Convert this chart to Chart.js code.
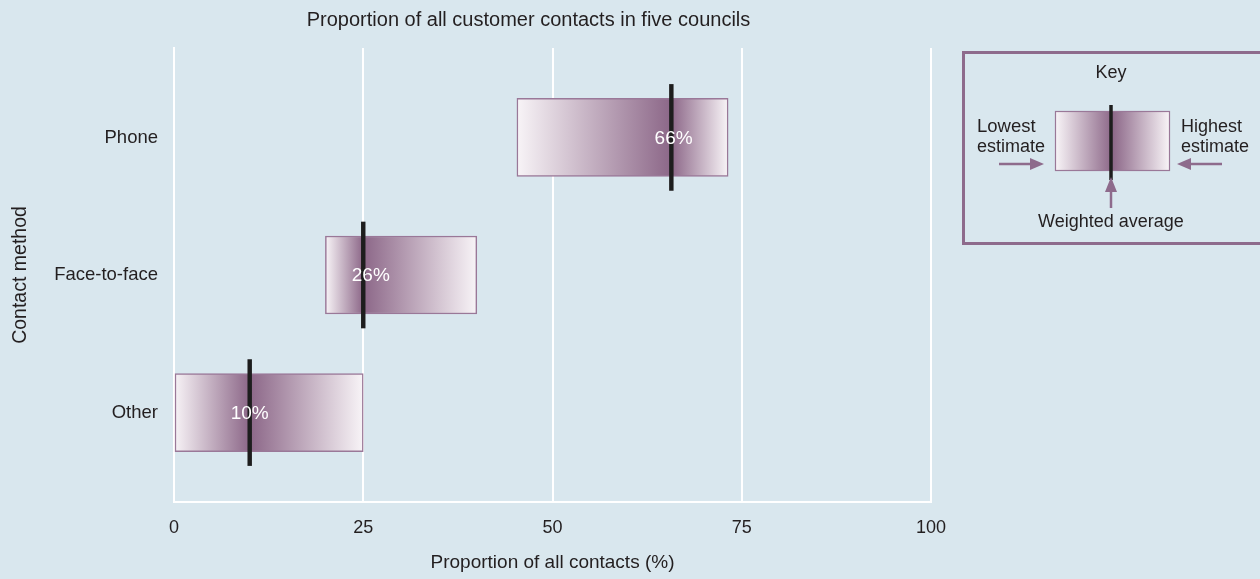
<!DOCTYPE html>
<html>
<head>
<meta charset="utf-8">
<script src="https://cdn.jsdelivr.net/npm/chart.js@4.4.1/dist/chart.umd.min.js"></script>
<style>
    html, body { margin: 0; padding: 0; background: #d9e7ee; }
    #wrap { position: relative; width: 1260px; height: 579px; overflow: hidden; background: #d9e7ee; }
    #chartBox { position: absolute; left: 0; top: 0; width: 1057px; height: 579px; }
    #key { position: absolute; left: 0; top: 0; pointer-events: none; font-family: 'Liberation Sans', Arial, sans-serif; }
</style>
</head>
<body>
<div id="wrap">
    <div id="chartBox"><canvas id="contactsChart"></canvas></div>
    <svg id="key" width="1260" height="579">
        <defs>
            <linearGradient id="keyGrad" x1="0" x2="1" y1="0" y2="0">
                <stop offset="0" stop-color="#f8f4f7"/>
                <stop offset="0.5" stop-color="#8c6788"/>
                <stop offset="1" stop-color="#f8f4f7"/>
            </linearGradient>
        </defs>
        <rect x="963.5" y="52.5" width="300" height="191" fill="none" stroke="#8e6b8c" stroke-width="3"/>
        <text x="1111" y="78" text-anchor="middle" font-size="18" fill="#231f20">Key</text>
        <rect x="1055.5" y="111.5" width="114" height="59" fill="url(#keyGrad)" stroke="#9a7898" stroke-width="1.2"/>
        <line x1="1111" y1="105" x2="1111" y2="180" stroke="#1d1d1d" stroke-width="3.5"/>
        <text x="977" y="132" font-size="18.5" fill="#231f20">Lowest</text>
        <text x="977" y="152" font-size="18" fill="#231f20">estimate</text>
        <text x="1181" y="132" font-size="18" fill="#231f20">Highest</text>
        <text x="1181" y="152" font-size="18" fill="#231f20">estimate</text>
        <line x1="999" y1="164" x2="1032" y2="164" stroke="#8e6b8c" stroke-width="2.5"/>
        <polygon points="1044,164 1030,158 1030,170" fill="#8e6b8c"/>
        <line x1="1222" y1="164" x2="1190" y2="164" stroke="#8e6b8c" stroke-width="2.5"/>
        <polygon points="1177,164 1191,158 1191,170" fill="#8e6b8c"/>
        <polygon points="1111,177 1105,192 1117,192" fill="#8e6b8c"/>
        <line x1="1111" y1="190" x2="1111" y2="208" stroke="#8e6b8c" stroke-width="2.5"/>
        <text x="1111" y="227" text-anchor="middle" font-size="18" fill="#231f20">Weighted average</text>
    </svg>
</div>
<script>
// Contact methods, estimate ranges and weighted averages (%)
const methods = ['Phone', 'Face-to-face', 'Other'];
const lowest = [45.3, 20, 0];
const highest = [73.2, 40, 25];
const averageLine = [65.7, 25, 10];
const averageLabel = [66, 26, 10];
const xTicks = [0, 25, 50, 75, 100];

const fontFamily = "'Liberation Sans', Arial, sans-serif";
const textColor = '#231f20';
const purple = '#8c6788';
const paleEnd = '#f8f4f7';

// White percentage labels on top of the bars
const averageLabels = {
    id: 'averageLabels',
    afterDatasetsDraw(chart) {
        const ctx = chart.ctx;
        const xs = chart.scales.x;
        const ys = chart.scales.y;
        ctx.save();
        ctx.fillStyle = '#ffffff';
        ctx.font = '19px ' + fontFamily;
        ctx.textAlign = 'center';
        ctx.textBaseline = 'middle';
        averageLabel.forEach((v, i) => {
            ctx.fillText(v + '%', xs.getPixelForValue(v), ys.getPixelForValue(i) + 1);
        });
        ctx.restore();
    }
};

function rangeGradient(context) {
    const chart = context.chart;
    if (!chart.chartArea || context.type !== 'data') return purple;
    const i = context.dataIndex;
    const xs = chart.scales.x;
    const x0 = xs.getPixelForValue(lowest[i]);
    const x1 = xs.getPixelForValue(highest[i]);
    const g = chart.ctx.createLinearGradient(x0, 0, x1, 0);
    g.addColorStop(0, paleEnd);
    g.addColorStop((averageLine[i] - lowest[i]) / (highest[i] - lowest[i]), purple);
    g.addColorStop(1, paleEnd);
    return g;
}

new Chart(document.getElementById('contactsChart'), {
    type: 'bar',
    data: {
        datasets: [
            {
                label: 'Weighted average',
                data: methods.map((m, i) => ({ y: i, x: [averageLine[i] - 0.25, averageLine[i] + 0.25] })),
                backgroundColor: '#1d1d1d',
                borderWidth: 0,
                barThickness: 106,
                grouped: false,
                order: 0
            },
            {
                label: 'Estimate range',
                data: methods.map((m, i) => ({ y: i, x: [lowest[i], highest[i]] })),
                backgroundColor: rangeGradient,
                borderColor: '#9a7898',
                borderWidth: 1.5,
                borderSkipped: false,
                barThickness: 78,
                grouped: false,
                order: 1
            }
        ]
    },
    options: {
        indexAxis: 'y',
        responsive: true,
        maintainAspectRatio: false,
        animation: false,
        plugins: {
            legend: { display: false },
            tooltip: { enabled: false },
            title: {
                display: true,
                text: 'Proportion of all customer contacts in five councils',
                color: textColor,
                font: { family: fontFamily, size: 20, weight: 'normal' },
                padding: { top: 8, bottom: 16 }
            }
        },
        scales: {
            x: {
                type: 'linear',
                min: 0,
                max: 100,
                afterBuildTicks: s => { s.ticks = xTicks.map(v => ({ value: v })); },
                afterFit: s => { s.height = 77; },
                grid: { color: '#ffffff', lineWidth: 2, drawTicks: false },
                border: { color: '#ffffff', width: 2 },
                ticks: { color: textColor, font: { family: fontFamily, size: 18 }, padding: 15 },
                title: {
                    display: true,
                    text: 'Proportion of all contacts (%)',
                    color: textColor,
                    font: { family: fontFamily, size: 19 },
                    padding: { top: 0, bottom: 5 }
                }
            },
            y: {
                type: 'linear',
                reverse: true,
                offset: false,
                min: -0.65,
                max: 2.65,
                afterBuildTicks: s => { s.ticks = methods.map((m, i) => ({ value: i })); },
                afterFit: s => { s.width = 174; },
                grid: { display: false, drawTicks: false },
                border: { color: '#ffffff', width: 2 },
                ticks: {
                    color: textColor,
                    font: { family: fontFamily, size: 18.5 },
                    padding: 16,
                    callback: v => methods[v]
                },
                title: {
                    display: true,
                    text: 'Contact method',
                    color: textColor,
                    font: { family: fontFamily, size: 19.5 },
                    padding: { top: 9, bottom: 0 }
                }
            },
            // empty right-hand gutter so the chart title centres over the whole figure
            gutter: {
                type: 'linear',
                position: 'right',
                afterFit: s => { s.width = 126; },
                grid: { display: false },
                border: { display: false },
                ticks: { display: false }
            }
        }
    },
    plugins: [averageLabels]
});
</script>
</body>
</html>
